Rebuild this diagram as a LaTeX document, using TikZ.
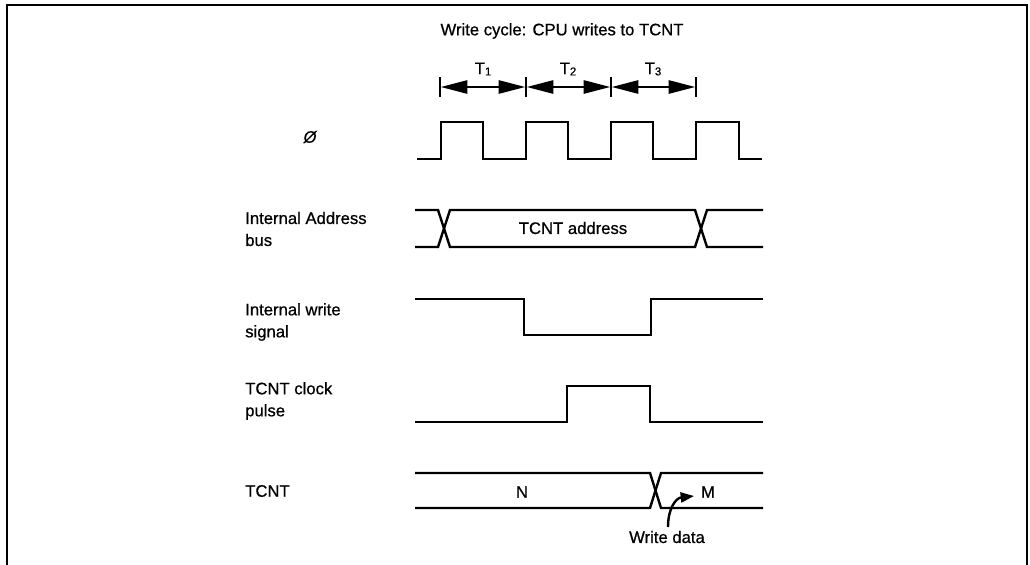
\documentclass[tikz,border=0pt]{standalone}
\usepackage{fontspec}
\setmainfont{Liberation Sans}[FakeBold=0.7]
\usetikzlibrary{arrows.meta}
\tikzset{
  wave/.style={line width=1.8pt, line join=miter},
  lbl/.style={font=\fontsize{12.5}{16.5}\selectfont, inner sep=0pt, align=left, anchor=west},
  txt/.style={font=\fontsize{12.5}{16.5}\selectfont, inner sep=0pt},
  tspan/.style={line width=1.4pt, {Triangle[length=20pt,width=10pt]}-{Triangle[length=20pt,width=10pt]}, shorten <=0.6pt, shorten >=0.6pt},
  tick/.style={line width=1.6pt},
  frame/.style={line width=2.2pt}
}
\newcommand{\sub}[1]{\raisebox{-0.15ex}{\fontsize{8.5}{8.5}\selectfont #1}}
\begin{document}
\begin{tikzpicture}[x=0.75pt,y=-0.75pt]
\useasboundingbox (0,0) rectangle (1030,564);
% frame
\draw[frame] (7,566) -- (7,5) -- (1027,5) -- (1027,566);
% title
\node[txt] (title) at (562,31) {Write cycle: CPU writes to TCNT};
% time spans
\coordinate (t0) at (440,87);
\coordinate (t1) at (526,87);
\coordinate (t2) at (611,87);
\coordinate (t3) at (696,87);
\foreach \c in {t0,t1,t2,t3}{
  \draw[tick] ([yshift=-10pt*0.75]\c) -- ([yshift=10pt*0.75]\c);
}
\draw[tspan] (t0) -- (t1);
\draw[tspan] (t1) -- (t2);
\draw[tspan] (t2) -- (t3);
\node[txt] (T1) at (483,69) {T\sub{1}};
\node[txt] (T2) at (568,69) {T\sub{2}};
\node[txt] (T3) at (653,69) {T\sub{3}};
% labels
\node[txt] (phi) at (310,137) {\itshape Ø};
\node[lbl] (lab) at (245,229) {Internal Address\\bus};
\node[lbl] (lwr) at (245,322) {Internal write\\signal};
\node[lbl] (lcp) at (245,401) {TCNT clock\\pulse};
\node[lbl] (ltc) at (245,491) {TCNT};
% clock
\draw[wave] (417,159) -| (441,122) -| (483,159) -| (526,122) -| (568,159) -| (611,122) -| (653,159) -| (696,122) -| (739,159) -- (762,159);
% address bus
\draw[wave] (415,210) -- (438,210) -- (450,247) -- (695,247) -- (707,210) -- (763,210);
\draw[wave] (415,247) -- (438,247) -- (450,210) -- (695,210) -- (707,247) -- (763,247);
\node[txt] (addr) at (573,228) {TCNT address};
% write signal
\draw[wave] (415,299) -| (524,335) -| (651,299) -- (763,299);
% clock pulse
\draw[wave] (415,422) -| (567,386) -| (650,422) -- (763,422);
% TCNT
\draw[wave] (415,473) -- (650,473) -- (661,508) -- (763,508);
\draw[wave] (415,508) -- (650,508) -- (661,473) -- (763,473);
\node[txt] (N) at (522,492) {N};
\node[txt] (M) at (708,492) {M};
\node[txt] (wd) at (667,537) {Write data};
\coordinate (tip) at (694,496);
\draw[line width=1.8pt, -{Triangle[length=10pt,width=7.5pt]}] (668,527) .. controls (668,508) and (676,498) .. (tip);
\end{tikzpicture}
\end{document}
